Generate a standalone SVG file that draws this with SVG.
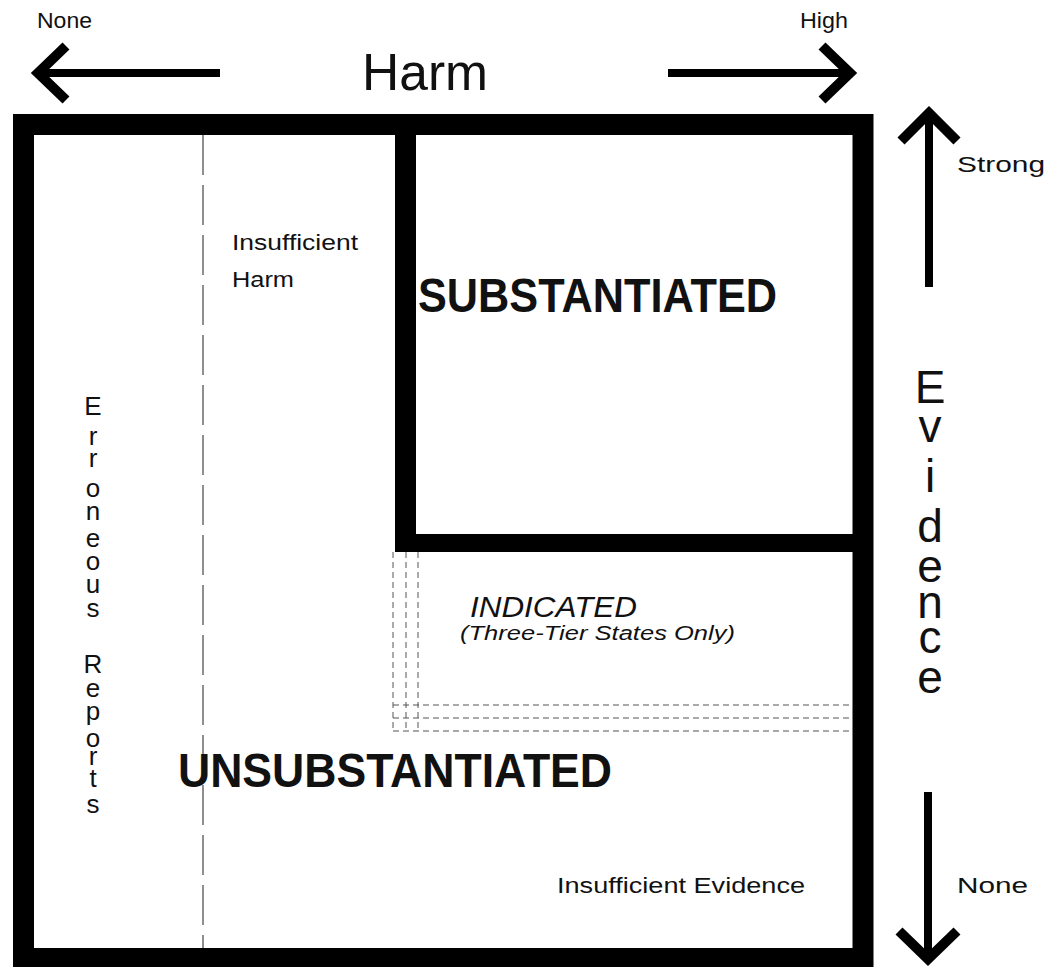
<svg xmlns="http://www.w3.org/2000/svg" width="1050" height="967" viewBox="0 0 1050 967">
<style>
text{font-family:"Liberation Sans","DejaVu Sans",sans-serif;fill:#111}
.lbl{font-size:22px}
.bold{font-weight:bold}
.it{font-style:italic}
.shaft{stroke:#000;stroke-width:8;fill:none}
.head{stroke:#000;stroke-width:10;fill:none;stroke-linejoin:miter;stroke-linecap:butt}
.dd{stroke:#444;stroke-width:1.2;stroke-dasharray:40 10;fill:none}
.ds{stroke:#555;stroke-width:1;stroke-dasharray:6 4;fill:none}
.vert{font-size:26px;text-anchor:middle}
.ev{font-size:46px;text-anchor:middle}
</style>
<rect width="1050" height="967" fill="#fff"/>

<g id="harm-axis">
<text class="lbl" x="37" y="28" textLength="55" lengthAdjust="spacingAndGlyphs">None</text>
<text class="lbl" x="800" y="28" textLength="48" lengthAdjust="spacingAndGlyphs">High</text>
<text x="362" y="90" font-size="52" textLength="126" lengthAdjust="spacingAndGlyphs">Harm</text>
</g>

<g id="connectors">
<line class="shaft" x1="38" y1="73" x2="220" y2="73"/>
<polyline class="head" points="66,46 38,73 66,100"/>
<line class="shaft" x1="668" y1="73" x2="850" y2="73"/>
<polyline class="head" points="822,46 850,73 822,100"/>
<line class="shaft" x1="929" y1="114" x2="929" y2="287"/>
<polyline class="head" points="901,141 929,113 957,141"/>
<line class="shaft" x1="928" y1="792" x2="928" y2="958"/>
<polyline class="head" points="899,931 928,959 957,931"/>
</g>

<g id="evidence-axis">
<text class="lbl" x="957" y="172" textLength="88" lengthAdjust="spacingAndGlyphs">Strong</text>
<text class="lbl" x="957" y="893" font-size="24" textLength="71" lengthAdjust="spacingAndGlyphs">None</text>
<text class="ev"><tspan x="930" y="403">E</tspan><tspan x="930" y="442">v</tspan><tspan x="930" y="492">i</tspan><tspan x="930" y="542">d</tspan><tspan x="930" y="582">e</tspan><tspan x="930" y="618">n</tspan><tspan x="930" y="653">c</tspan><tspan x="930" y="693">e</tspan></text>
</g>

<g id="frame">
<rect x="23.5" y="124.5" width="839.5" height="834" fill="none" stroke="#000" stroke-width="21"/>
</g>

<g id="erroneous-reports">
<line class="dd" x1="203" y1="135" x2="203" y2="948"/>
<text class="vert"><tspan x="93" y="415">E</tspan><tspan x="93" y="445">r</tspan><tspan x="93" y="467">r</tspan><tspan x="93" y="497">o</tspan><tspan x="93" y="520">n</tspan><tspan x="93" y="547">e</tspan><tspan x="93" y="570">o</tspan><tspan x="93" y="593">u</tspan><tspan x="93" y="617">s</tspan><tspan x="93" y="673">R</tspan><tspan x="93" y="697">e</tspan><tspan x="93" y="720">p</tspan><tspan x="93" y="747">o</tspan><tspan x="93" y="765">r</tspan><tspan x="93" y="787">t</tspan><tspan x="93" y="813">s</tspan></text>
</g>

<g id="insufficient-harm">
<text class="lbl" x="232" y="250" textLength="126" lengthAdjust="spacingAndGlyphs">Insufficient</text>
<text class="lbl" x="232" y="287" textLength="62" lengthAdjust="spacingAndGlyphs">Harm</text>
</g>

<g id="substantiated">
<rect x="395" y="135" width="21" height="417" fill="#000"/>
<rect x="395" y="534" width="460" height="18" fill="#000"/>
<text class="bold" x="418" y="312" font-size="48" textLength="359" lengthAdjust="spacingAndGlyphs">SUBSTANTIATED</text>
</g>

<g id="indicated">
<line class="ds" x1="393" y1="552" x2="393" y2="731"/>
<line class="ds" x1="406" y1="552" x2="406" y2="731"/>
<line class="ds" x1="418" y1="552" x2="418" y2="731"/>
<line class="ds" x1="393" y1="705" x2="853" y2="705"/>
<line class="ds" x1="393" y1="718" x2="853" y2="718"/>
<line class="ds" x1="393" y1="731" x2="853" y2="731"/>
<text class="it" x="470" y="617" font-size="30" textLength="167" lengthAdjust="spacingAndGlyphs">INDICATED</text>
<text class="it" x="460" y="640" font-size="20" textLength="275" lengthAdjust="spacingAndGlyphs">(Three-Tier States Only)</text>
</g>

<g id="unsubstantiated">
<text class="bold" x="178" y="787" font-size="48" textLength="434" lengthAdjust="spacingAndGlyphs">UNSUBSTANTIATED</text>
<text class="lbl" x="557" y="893" textLength="248" lengthAdjust="spacingAndGlyphs">Insufficient Evidence</text>
</g>
</svg>
